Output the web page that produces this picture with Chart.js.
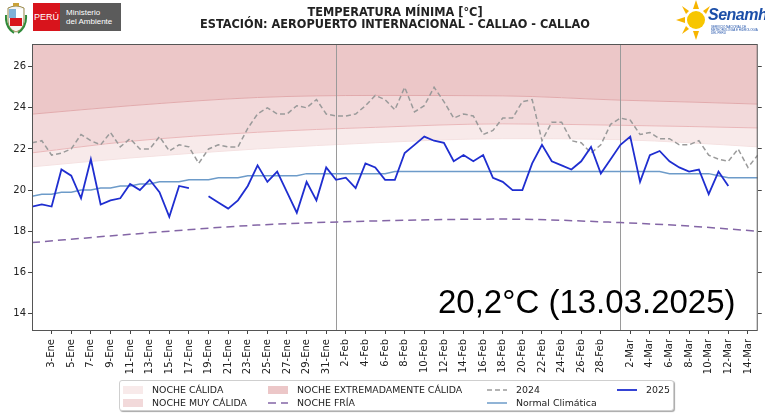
<!DOCTYPE html>
<html lang="es">
<head>
<meta charset="utf-8">
<title>Temperatura mínima - Callao</title>
<script src="https://cdn.jsdelivr.net/npm/chart.js@4.4.1/dist/chart.umd.min.js"></script>
<style>
  html, body { margin: 0; padding: 0; background: #fff; }
  #wrap { position: relative; width: 765px; height: 414px; overflow: hidden; font-family: "DejaVu Sans", sans-serif; }
  #chart { position: absolute; left: 0; top: 0; }
  .title { position: absolute; left: 0; width: 790px; text-align: center; color: #222;
           font-family: "DejaVu Sans Condensed", "DejaVu Sans", sans-serif; font-weight: bold; font-size: 12.6px; line-height: 12px; }
  #peru { position: absolute; left: 33px; top: 3px; width: 27px; height: 28px; background: #d8141c; color: #fff;
          font: 9px "Liberation Sans", sans-serif; display: flex; align-items: center; justify-content: center; }
  #minam { position: absolute; left: 60px; top: 3px; width: 61px; height: 28px; background: #5b5b5b; color: #fff;
           font: 8px/9px "Liberation Sans", sans-serif; box-sizing: border-box; padding: 5px 0 0 6px; }
  #senamhi { position: absolute; left: 708px; top: 6px; color: #1c4fa8; font: italic bold 16px "Liberation Sans", sans-serif; letter-spacing: -0.5px; }
  #senamhi-sub { position: absolute; left: 711px; top: 26px; width: 50px; height: 6px; font: 3px/3px "Liberation Sans", sans-serif; color: #1c4fa8; }
  #last-value { position: absolute; left: 438px; top: 285px; font: 33px/33px "Liberation Sans", sans-serif; color: #000; white-space: nowrap; }
  #legend { position: absolute; left: 119px; top: 380px; width: 555px; height: 31px; box-sizing: border-box;
            border: 1px solid #cfcfcf; border-radius: 3px; background: #fff; box-shadow: 1px 1px 1px rgba(0,0,0,0.35);
            display: grid; grid-template-columns: 145px 219px 130px auto; grid-template-rows: 13px 13px;
            grid-auto-flow: column; padding: 2px 0 0 3px; font-size: 9.4px; color: #222; }
  .item { display: flex; align-items: center; white-space: nowrap; }
  .item svg { margin-right: 9px; flex: none; }
</style>
</head>
<body>
<div id="wrap">
  <canvas id="chart" width="765" height="414"></canvas>

  <svg style="position:absolute;left:5px;top:3px" width="23" height="31" viewBox="0 0 23 31">
    <path d="M3 5 Q11 1 19 5 L19 18 Q19 26 11 29 Q3 26 3 18 Z" fill="#f4f4f4" stroke="#9a8a4a" stroke-width="1"/>
    <rect x="4" y="6" width="7" height="9" fill="#7fb2d8"/>
    <rect x="11" y="6" width="7" height="9" fill="#ffffff"/>
    <rect x="5" y="15" width="12" height="8" fill="#d8141c"/>
    <path d="M1 12 Q0 24 9 30 M21 12 Q22 24 13 30" stroke="#2f8a3a" stroke-width="2" fill="none"/>
    <rect x="8" y="0" width="6" height="3" fill="#c9a23a"/>
  </svg>
  <div id="peru">PERÚ</div>
  <div id="minam">Ministerio<br>del Ambiente</div>

  <svg style="position:absolute;left:676px;top:0" width="40" height="40" viewBox="0 0 40 40">
    <circle cx="20" cy="20" r="9" fill="#f7c600"/>
    <g fill="#f7b500">
      <path d="M20 0 L23 9 L17 9 Z"/><path d="M20 40 L23 31 L17 31 Z"/>
      <path d="M0 20 L9 17 L9 23 Z"/><path d="M6 6 L13 11 L10 14 Z"/>
      <path d="M6 34 L10 26 L13 29 Z"/><path d="M34 6 L30 14 L27 11 Z"/>
    </g>
  </svg>
  <div id="senamhi">Senamhi</div>
  <div id="senamhi-sub">SERVICIO NACIONAL DE METEOROLOGÍA E HIDROLOGÍA DEL PERÚ</div>

  <div class="title" style="top:6px">TEMPERATURA MÍNIMA [°C]</div>
  <div class="title" style="top:18px">ESTACIÓN: AEROPUERTO INTERNACIONAL - CALLAO - CALLAO</div>

  <div id="last-value">20,2°C (13.03.2025)</div>
  <div id="legend"></div>
</div>

<script>
// eje x: día del año, 0 = 1-Ene (calendario con 29-Feb)
const dayCount = 75;
const yAxisMin = 13.2;
const yAxisMax = 27.1;
const yTickValues = [14, 16, 18, 20, 22, 24, 26];

const tickDays = [2, 4, 6, 8, 10, 12, 14, 16, 18, 20, 22, 24, 26, 28, 30,
  32, 34, 36, 38, 40, 42, 44, 46, 48, 50, 52, 54, 56, 58,
  61, 63, 65, 67, 69, 71, 73];
const tickLabels = ["3-Ene", "5-Ene", "7-Ene", "9-Ene", "11-Ene", "13-Ene", "15-Ene", "17-Ene",
  "19-Ene", "21-Ene", "23-Ene", "25-Ene", "27-Ene", "29-Ene", "31-Ene",
  "2-Feb", "4-Feb", "6-Feb", "8-Feb", "10-Feb", "12-Feb", "14-Feb", "16-Feb",
  "18-Feb", "20-Feb", "22-Feb", "24-Feb", "26-Feb", "28-Feb",
  "2-Mar", "4-Mar", "6-Mar", "8-Mar", "10-Mar", "12-Mar", "14-Mar"];
const monthStartDays = [31, 60];

const temp2025 = [
  19.2, 19.3, 19.2, 21.0, 20.7, 19.6, 21.5, 19.3, 19.5, 19.6,
  20.3, 20.0, 20.5, 19.9, 18.7, 20.2, 20.1, null, 19.7, 19.4,
  19.1, 19.5, 20.2, 21.2, 20.4, 20.9, 19.9, 18.9, 20.4, 19.5,
  21.1, 20.5, 20.6, 20.1, 21.3, 21.1, 20.5, 20.5, 21.8, 22.2,
  22.6, 22.4, 22.3, 21.4, 21.7, 21.4, 21.7, 20.6, 20.4, 20.0,
  20.0, 21.3, 22.2, 21.4, 21.2, 21.0, 21.4, 22.1, 20.8, 21.5,
  22.2, 22.6, 20.4, 21.7, 21.9, 21.4, 21.1, 20.9, 21.0, 19.8,
  20.9, 20.2];

const temp2024 = [
  22.3, 22.4, 21.7, 21.8, 22.0, 22.7, 22.4, 22.2, 22.8, 22.1,
  22.5, 22.0, 22.0, 22.6, 21.9, 22.2, 22.1, 21.3, 22.0, 22.2,
  22.1, 22.1, 23.0, 23.7, 24.0, 23.7, 23.7, 24.1, 24.0, 24.4,
  23.7, 23.6, 23.6, 23.7, 24.1, 24.6, 24.4, 23.9, 25.0, 23.8,
  24.1, 25.0, 24.3, 23.5, 23.7, 23.6, 22.7, 22.9, 23.5, 23.5,
  24.3, 24.4, 22.4, 23.3, 23.3, 22.4, 22.3, 21.8, 22.2, 23.2,
  23.5, 23.4, 22.7, 22.8, 22.5, 22.5, 22.2, 22.2, 22.4, 21.7,
  21.5, 21.4, 22.0, 21.1, 21.7];

const normalClimatica = [
  19.7, 19.8, 19.8, 19.9, 19.9, 20.0, 20.0, 20.1, 20.1, 20.2,
  20.2, 20.3, 20.3, 20.4, 20.4, 20.4, 20.5, 20.5, 20.5, 20.6,
  20.6, 20.6, 20.7, 20.7, 20.7, 20.7, 20.7, 20.7, 20.8, 20.8,
  20.8, 20.8, 20.8, 20.8, 20.8, 20.8, 20.8, 20.9, 20.9, 20.9,
  20.9, 20.9, 20.9, 20.9, 20.9, 20.9, 20.9, 20.9, 20.9, 20.9,
  20.9, 20.9, 20.9, 20.9, 20.9, 20.9, 20.9, 20.9, 20.9, 20.9,
  20.9, 20.9, 20.9, 20.9, 20.9, 20.8, 20.8, 20.8, 20.8, 20.8,
  20.7, 20.6, 20.6, 20.6, 20.6];

const limitDays = [0, 10, 23, 35, 48, 60, 67, 74];
const limitExtremaCalida = [23.69, 24.1, 24.5, 24.6, 24.58, 24.37, 24.28, 24.18];
const limitMuyCalida = [21.81, 22.37, 22.81, 23.05, 23.22, 23.15, 23.09, 23.02];
const limitCalida = [21.13, 21.56, 22.0, 22.3, 22.5, 22.45, 22.3, 22.1];
const limitFria = [17.45, 17.85, 18.3, 18.5, 18.59, 18.42, 18.25, 18.0];

function toPoints(values, days) {
  return values.map((v, i) => ({ x: days ? days[i] : i, y: v }));
}

const curve = { pointRadius: 0, pointHoverRadius: 0, cubicInterpolationMode: "monotone" };

const datasets = [
  { ...curve, label: "NOCHE EXTREMADAMENTE CÁLIDA", data: toPoints(limitExtremaCalida, limitDays),
    borderColor: "#e2abad", borderWidth: 1, backgroundColor: "#ecc7c8", fill: "end", order: 10, kind: "patch" },
  { ...curve, label: "NOCHE MUY CÁLIDA", data: toPoints(limitMuyCalida, limitDays),
    borderColor: "#eab8ba", borderWidth: 1, backgroundColor: "#f2d9da", fill: 0, order: 11, kind: "patch" },
  { ...curve, label: "NOCHE CÁLIDA", data: toPoints(limitCalida, limitDays),
    borderColor: "#f5e2e2", borderWidth: 1, backgroundColor: "#f8eaea", fill: 1, order: 12, kind: "patch" },
  { ...curve, label: "NOCHE FRÍA", data: toPoints(limitFria, limitDays),
    borderColor: "#8466a6", borderWidth: 1.5, borderDash: [8, 5], fill: false, order: 3 },
  { label: "Normal Climática", data: toPoints(normalClimatica), pointRadius: 0,
    borderColor: "#6d9bc9", borderWidth: 1.5, fill: false, order: 2 },
  { label: "2024", data: toPoints(temp2024), pointRadius: 0,
    borderColor: "#9a9a9a", borderWidth: 1.5, borderDash: [5, 3], fill: false, order: 1 },
  { label: "2025", data: toPoints(temp2025), pointRadius: 0,
    borderColor: "#1f2ed0", borderWidth: 1.8, fill: false, order: 0 },
];

// líneas de inicio de mes (encima de las bandas, debajo de las series) y marco
const monthLinesPlugin = {
  id: "monthLines",
  afterDatasetDraw(chart, args) {
    if (args.index !== 0) {
      return;
    }
    const { ctx, chartArea } = chart;
    const xScale = chart.scales.x;
    ctx.save();
    ctx.strokeStyle = "#9a9a9a";
    ctx.lineWidth = 1;
    for (const day of monthStartDays) {
      const px = Math.round(xScale.getPixelForValue(day)) + 0.5;
      ctx.beginPath();
      ctx.moveTo(px, chartArea.top);
      ctx.lineTo(px, chartArea.bottom);
      ctx.stroke();
    }
    ctx.restore();
  },
  afterDatasetsDraw(chart) {
    const { ctx, chartArea } = chart;
    ctx.save();
    ctx.strokeStyle = "#555";
    ctx.lineWidth = 1;
    ctx.strokeRect(chartArea.left + 0.5, chartArea.top + 0.5,
      chartArea.right - chartArea.left - 1, chartArea.bottom - chartArea.top);
    ctx.restore();
  },
};

const tickFont = { family: "DejaVu Sans", size: 10 };
const tickGrid = { drawOnChartArea: false, drawTicks: true, tickLength: 4, color: "#444" };
const setYTicks = (scale) => { scale.ticks = yTickValues.map((v) => ({ value: v })); };

new Chart(document.getElementById("chart"), {
  type: "line",
  data: { datasets },
  plugins: [monthLinesPlugin],
  options: {
    responsive: false,
    animation: false,
    devicePixelRatio: 1,
    layout: { padding: { top: 44, left: 0, right: 0, bottom: 0 } },
    plugins: { legend: { display: false }, tooltip: { enabled: false } },
    scales: {
      x: {
        type: "linear",
        min: 0,
        max: dayCount - 1,
        afterBuildTicks: (scale) => { scale.ticks = tickDays.map((v) => ({ value: v })); },
        afterFit: (scale) => { scale.height = 84; },
        grid: tickGrid,
        border: { display: false },
        ticks: {
          autoSkip: false, minRotation: 90, maxRotation: 90, padding: 5,
          color: "#222", font: tickFont,
          callback: (value) => tickLabels[tickDays.indexOf(value)] ?? "",
        },
      },
      y: {
        min: yAxisMin,
        max: yAxisMax,
        afterBuildTicks: setYTicks,
        afterFit: (scale) => { scale.width = 32; },
        grid: tickGrid,
        border: { display: false },
        ticks: { color: "#222", font: tickFont, padding: 2 },
      },
      y2: {
        position: "right",
        min: yAxisMin,
        max: yAxisMax,
        afterBuildTicks: setYTicks,
        afterFit: (scale) => { scale.width = 5; },
        grid: tickGrid,
        border: { display: false },
        ticks: { display: false },
      },
    },
  },
});

// leyenda en 4 columnas, como la original
const legendOrder = ["NOCHE CÁLIDA", "NOCHE MUY CÁLIDA", "NOCHE EXTREMADAMENTE CÁLIDA", "NOCHE FRÍA",
  "2024", "Normal Climática", "2025"];
const legendEl = document.getElementById("legend");
for (const label of legendOrder) {
  const ds = datasets.find((d) => d.label === label);
  const swatch = ds.kind === "patch"
    ? `<svg width="20" height="8"><rect width="20" height="8" fill="${ds.backgroundColor}"/></svg>`
    : `<svg width="20" height="8"><line x1="0" y1="4" x2="20" y2="4" stroke="${ds.borderColor}"
         stroke-width="${ds.borderWidth}" stroke-dasharray="${(ds.borderDash || []).join(",")}"/></svg>`;
  const item = document.createElement("div");
  item.className = "item";
  item.innerHTML = `${swatch}<span>${label}</span>`;
  legendEl.appendChild(item);
}
</script>
</body>
</html>
